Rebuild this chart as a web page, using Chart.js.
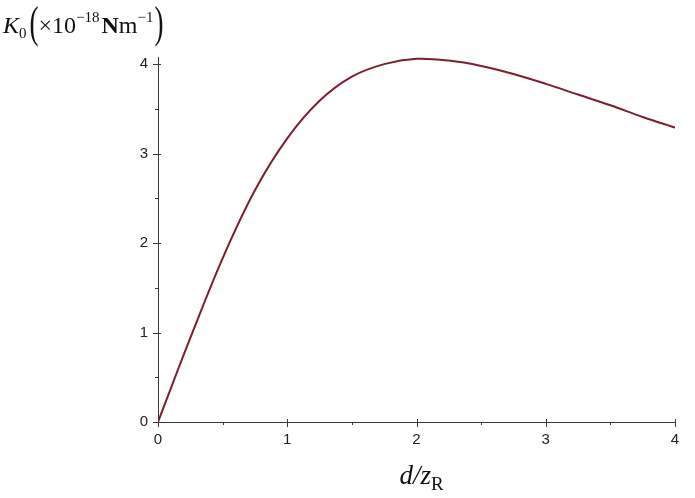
<!DOCTYPE html>
<html>
<head>
<meta charset="utf-8">
<script src="https://cdn.jsdelivr.net/npm/chart.js@4/dist/chart.umd.min.js"></script>
<style>
  html, body { margin: 0; padding: 0; background: #fff; }
  #wrap { width: 695px; height: 498px; position: relative; }
</style>
</head>
<body>
<div id="wrap"><canvas id="chart"></canvas></div>
<script>
// values
const dValues = [0, 0.25, 0.5, 0.75, 1.0, 1.25, 1.5, 1.75, 2.0, 2.25, 2.5, 2.75, 3.0, 3.25, 3.5, 3.75, 4.0];
const kValues = [0, 0.94, 1.83, 2.59, 3.17, 3.59, 3.86, 4.00, 4.06, 4.04, 3.98, 3.89, 3.78, 3.66, 3.54, 3.41, 3.29];
const tickValues = [0, 0.5, 1, 1.5, 2, 2.5, 3, 3.5, 4];
const tickLabels = ["0", "", "1", "", "2", "", "3", "", "4"];

const lineColor = "#7b1f2e";
const axisColor = "#3a3a3a";

// draws the tick marks: major ones cross the axis, minor ones stick out only
const tickMarks = {
    id: "tickMarks",
    afterDraw(chart) {
        const ctx = chart.ctx;
        const xs = chart.scales.x, ys = chart.scales.y;
        const x0 = xs.getPixelForValue(0), y0 = ys.getPixelForValue(0);
        ctx.save();
        ctx.strokeStyle = axisColor;
        ctx.lineWidth = 1;
        tickValues.forEach((v, i) => {
            const major = tickLabels[i] !== "";
            const px = Math.round(xs.getPixelForValue(v)) + 0.5;
            const py = Math.round(ys.getPixelForValue(v)) + 0.5;
            ctx.beginPath();
            ctx.moveTo(px, y0 + (major ? 5 : 3));
            ctx.lineTo(px, y0 - (major ? 3 : 0));
            ctx.moveTo(x0 - (major ? 5 : 3), py);
            ctx.lineTo(x0 + (major ? 3 : 0), py);
            ctx.stroke();
        });
        ctx.restore();
    }
};

// tall thin bracket, like Maple's stretched parentheses
function bracket(ctx, ch, x, baseline) {
    ctx.save();
    ctx.font = "27px 'Liberation Serif'";
    ctx.translate(x, baseline);
    ctx.scale(1, 1.65);
    ctx.fillText(ch, 0, 0);
    const w = ctx.measureText(ch).width;
    ctx.restore();
    return w;
}

// axis titles in the Maple style
const axisTitles = {
    id: "axisTitles",
    afterDraw(chart) {
        const ctx = chart.ctx;
        ctx.save();
        ctx.fillStyle = "#111";
        ctx.textBaseline = "alphabetic";
        let x = 3;
        const base = 33;
        const put = (txt, font, dy) => {
            ctx.font = font;
            ctx.fillText(txt, x, base + (dy || 0));
            x += ctx.measureText(txt).width;
        };
        put("K", "italic 24px 'Liberation Serif'");
        put("0", "15px 'Liberation Serif'", 5);
        x += 3;
        x += bracket(ctx, "(", x, 37);
        put("\u00d710", "24px 'Liberation Serif'");
        put("\u221218", "15px 'Liberation Serif'", -11);
        x += 2;
        put("N", "bold 24px 'Liberation Serif'");
        put("m", "24px 'Liberation Serif'");
        put("\u22121", "15px 'Liberation Serif'", -11);
        x += 1;
        bracket(ctx, ")", x, 37);

        // x axis title
        const xs = chart.scales.x;
        const cx = xs.getPixelForValue(2);
        ctx.font = "italic 27px 'Liberation Serif'";
        const main = "d/z";
        const w1 = ctx.measureText(main).width;
        ctx.font = "19px 'Liberation Serif'";
        const w2 = ctx.measureText("R").width;
        let lx = cx - (w1 + w2) / 2 + 5;
        ctx.font = "italic 27px 'Liberation Serif'";
        ctx.fillText(main, lx, 484);
        ctx.font = "19px 'Liberation Serif'";
        ctx.fillText("R", lx + w1, 490);
        ctx.restore();
    }
};

const points = dValues.map((d, i) => ({ x: d, y: kValues[i] }));

new Chart(document.getElementById("chart"), {
    type: "scatter",
    data: {
        datasets: [{
            data: points,
            showLine: true,
            borderColor: lineColor,
            borderWidth: 2,
            pointRadius: 0,
            tension: 0.35,
            fill: false,
        }],
    },
    options: {
        responsive: true,
        maintainAspectRatio: false,
        animation: false,
        layout: { padding: { top: 57, right: 20, left: 0, bottom: 0 } },
        plugins: { legend: { display: false }, tooltip: { enabled: false } },
        scales: {
            x: {
                type: "linear",
                min: 0,
                max: 4,
                afterBuildTicks: (s) => { s.ticks = tickValues.map((v) => ({ value: v })); },
                afterFit: (s) => { s.height = 76; },
                ticks: {
                    callback: (v) => tickLabels[tickValues.indexOf(v)],
                    color: "#222",
                    font: { family: "Liberation Sans", size: 15 },
                    padding: 3,
                    maxRotation: 0,
                    autoSkip: false,
                },
                grid: { display: true, drawOnChartArea: false, drawTicks: true, tickLength: 6, tickColor: "rgba(0,0,0,0)" },
                border: { display: true, color: axisColor, width: 1 },
            },
            y: {
                type: "linear",
                min: 0,
                max: 4.08,
                afterBuildTicks: (s) => { s.ticks = tickValues.map((v) => ({ value: v })); },
                afterFit: (s) => { s.width = 158; },
                ticks: {
                    callback: (v) => tickLabels[tickValues.indexOf(v)],
                    color: "#222",
                    font: { family: "Liberation Sans", size: 15 },
                    padding: 4,
                    autoSkip: false,
                },
                grid: { display: true, drawOnChartArea: false, drawTicks: true, tickLength: 6, tickColor: "rgba(0,0,0,0)" },
                border: { display: true, color: axisColor, width: 1 },
            },
        },
    },
    plugins: [tickMarks, axisTitles],
});
</script>
</body>
</html>
